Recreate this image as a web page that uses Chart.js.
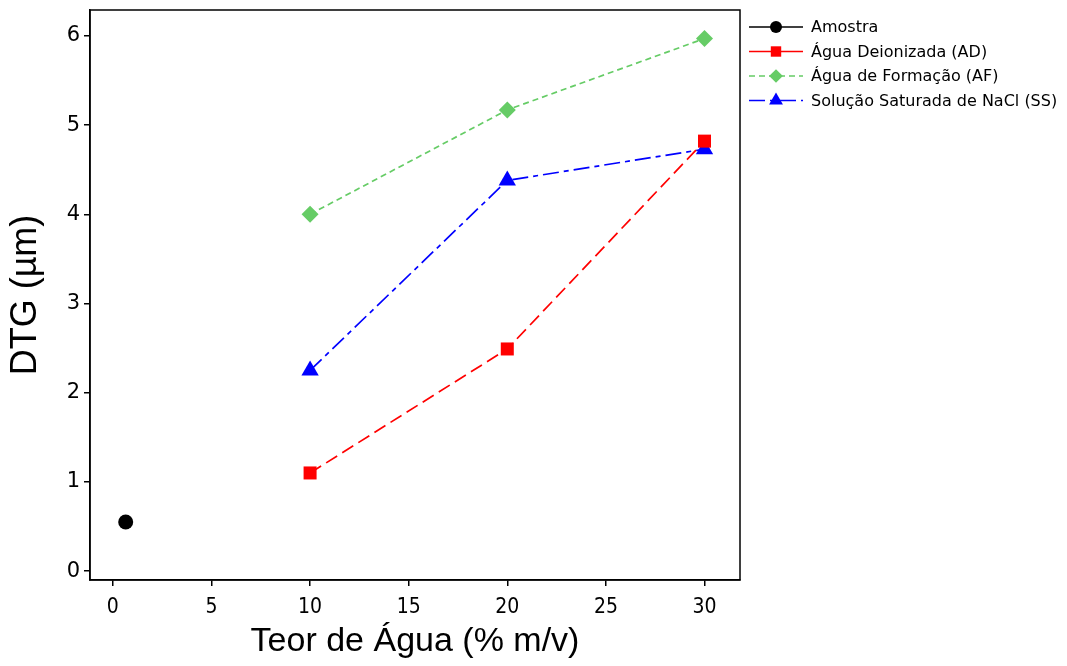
<!DOCTYPE html>
<html><head><meta charset="utf-8">
<script src="https://cdn.jsdelivr.net/npm/chart.js@4"></script>
<style>html,body{margin:0;padding:0;background:#fff}#wrap{width:1067px;height:666px}</style>
</head><body><div id="wrap"><canvas id="c" width="1067" height="666"></canvas></div>
<script>
const seriesNames = ["Amostra","Água Deionizada (AD)","Água de Formação (AF)","Solução Saturada de NaCl (SS)"];
const amostraX = [0.65];
const amostraY = [0.55];
const teorAgua = [10, 20, 30];
const adValues = [1.1, 2.49, 4.82];
const afValues = [4.0, 5.17, 5.97];
const ssValues = [2.25, 4.38, 4.73];
const xTicks = [0, 5, 10, 15, 20, 25, 30];
const yTicks = [0, 1, 2, 3, 4, 5, 6];

const pts = (xs, ys) => xs.map((x, i) => ({x, y: ys[i]}));
const styles = [
  {color:'#000000', dash:[], pointStyle:'circle', r:7.5},
  {color:'#ff0000', dash:[13,6], pointStyle:'rect', r:9.2},
  {color:'#66cc66', dash:[6,4], pointStyle:'rectRot', r:8.5},
  {color:'#0000ff', dash:[16,5,5,5], pointStyle:'triangle', r:10}
];
const dataArr = [pts(amostraX, amostraY), pts(teorAgua, adValues), pts(teorAgua, afValues), pts(teorAgua, ssValues)];

const datasets = seriesNames.map((n, i) => ({
  label: n, data: dataArr[i], borderColor: styles[i].color, backgroundColor: styles[i].color,
  borderDash: styles[i].dash, borderWidth: 1.7, pointStyle: styles[i].pointStyle,
  pointRadius: styles[i].r, pointHoverRadius: styles[i].r, pointBorderWidth: 0, showLine: true, tension: 0
}));

const frame = {
  id: 'frame',
  afterDraw(chart) {
    const {ctx, chartArea: a} = chart;
    ctx.save();
    ctx.strokeStyle = '#000'; ctx.lineWidth = 1.5;
    ctx.strokeRect(a.left, a.top, a.right - a.left, a.bottom - a.top);
    const lx = 749, ly0 = 27, dy = 24.5;
    ctx.font = '16px "DejaVu Sans"';
    ctx.textBaseline = 'middle';
    chart.data.datasets.forEach((ds, i) => {
      const y = ly0 + i * dy;
      ctx.strokeStyle = ds.borderColor; ctx.lineWidth = 1.7;
      ctx.setLineDash(i === 2 ? [6,4] : (i === 3 ? [16,5,5,5] : []));
      ctx.beginPath(); ctx.moveTo(lx, y); ctx.lineTo(lx + 54, y); ctx.stroke();
      ctx.setLineDash([]);
      ctx.fillStyle = ds.borderColor;
      Chart.helpers.drawPoint(ctx, {pointStyle: ds.pointStyle, radius: ds.pointRadius * 0.8, borderWidth: 0}, lx + 27, y);
      ctx.fillStyle = '#000';
      ctx.fillText(ds.label, lx + 62, y + 1);
    });
    ctx.restore();
  }
};

const tickFilter = (vals) => (scale) => { scale.ticks = vals.map(v => ({value: v})); };

new Chart(document.getElementById('c'), {
  type: 'scatter',
  data: {datasets},
  options: {
    responsive: false, animation: false, devicePixelRatio: 1,
    layout: {padding: {top: 10, right: 327, left: 0, bottom: 0}},
    plugins: {legend: {display: false}, tooltip: {enabled: false}},
    scales: {
      x: {
        type: 'linear', min: -1.16, max: 31.8,
        afterBuildTicks: tickFilter(xTicks),
        afterFit(s) { s.height = 86; s.paddingLeft = 0; s.paddingRight = 0; },
        grid: {display: true, drawOnChartArea: false, drawTicks: true, tickLength: 6, color: '#000', lineWidth: 1.5},
        border: {display: true, color: '#000', width: 1.5},
        ticks: {color: '#000', font: {family: '"DejaVu Sans Condensed"', size: 21}, padding: 9, maxRotation: 0},
        title: {display: true, text: 'Teor de Água (% m/v)', color: '#000', font: {family: '"Liberation Sans"', size: 34}, padding: {top: 0}}
      },
      y: {
        type: 'linear', min: -0.1, max: 6.29,
        afterBuildTicks: tickFilter(yTicks),
        afterFit(s) { s.width = 90; s.paddingTop = 0; s.paddingBottom = 0; },
        grid: {display: true, drawOnChartArea: false, drawTicks: true, tickLength: 6, color: '#000', lineWidth: 1.5},
        border: {display: true, color: '#000', width: 1.5},
        ticks: {color: '#000', font: {family: '"DejaVu Sans"', size: 21}, padding: 4},
        title: {display: true, text: 'DTG (µm)', color: '#000', font: {family: '"Liberation Sans"', size: 36}, padding: {bottom: 4}}
      }
    }
  },
  plugins: [frame]
});
</script></body></html>
